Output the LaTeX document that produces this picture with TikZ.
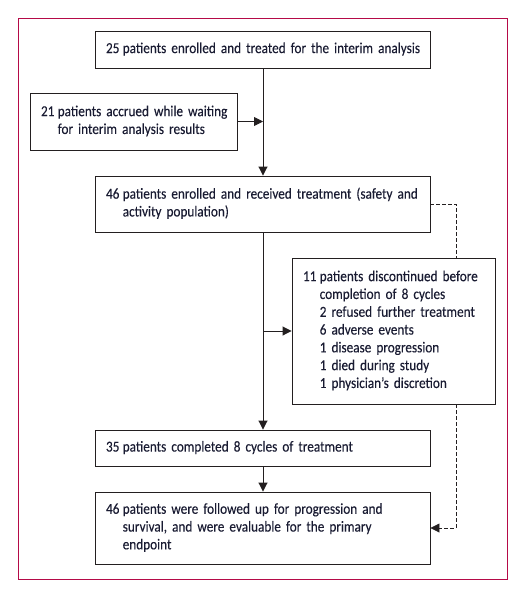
\documentclass[tikz,border=0pt]{standalone}
\usepackage{fontspec}
\setmainfont[FakeStretch=0.87,WordSpace=0.75,FakeBold=0.15]{Carlito}
\usetikzlibrary{arrows.meta}
\definecolor{frame}{RGB}{181,10,72}
\definecolor{ink}{RGB}{35,31,32}
\definecolor{txt}{RGB}{25,27,50}
\newcommand\numtab[2]{\begin{tabular}{@{}l@{\hspace{0.22em}}l@{}}#1 & #2\end{tabular}}
\begin{document}
\begin{tikzpicture}[x=1pt,y=-1pt,
  box/.style={draw=ink, line width=0.9pt, fill=white, inner xsep=11pt, inner ysep=0pt,
    align=left, text=txt, font=\fontsize{15.2}{17.8}\selectfont},
  flow/.style={draw=ink, line width=0.9pt, -{Triangle[length=9pt,width=9pt]}},
  dsh/.style={draw=ink, line width=0.8pt, dash pattern=on 3.5pt off 2.5pt},
  dsharrow/.style={dsh, -{Triangle[length=9pt,width=9pt]}}]
\useasboundingbox (0,0) rectangle (523,590);
\draw[frame, line width=1pt] (18,18) rectangle (507,579);

\node[box, minimum width=335pt, minimum height=37pt, text width=313pt] (b1) at (262.5,49.5)
  {\numtab{25}{patients enrolled and treated for the interim analysis}};
\node[box, minimum width=207pt, minimum height=57pt, text width=185pt] (b2) at (133.5,121.5)
  {\numtab{21}{patients accrued while waiting\\ & for interim analysis results}};
\node[box, minimum width=335pt, minimum height=56pt, text width=313pt] (b3) at (262.5,204)
  {\numtab{46}{patients enrolled and received treatment (safety and\\ & activity population)}};
\node[box, minimum width=203pt, minimum height=146pt, text width=181pt] (b4) at (393.5,331)
  {\numtab{11}{patients discontinued before\\ & completion of 8 cycles\\ & 2 refused further treatment\\ & 6 adverse events\\ & 1 disease progression\\ & 1 died during study\\ & 1 physician’s discretion}};
\node[box, minimum width=335pt, minimum height=36pt, text width=313pt] (b5) at (262.5,448)
  {\numtab{35}{patients completed 8 cycles of treatment}};
\node[box, minimum width=335pt, minimum height=72pt, text width=313pt] (b6) at (262.5,528)
  {\numtab{46}{patients were followed up for progression and\\ & survival, and were evaluable for the primary\\ & endpoint}};

\coordinate (m) at (263,0);
\coordinate (dx) at (456,0);
\draw[flow] (m |- b1.south) -- (m |- b3.north);
\draw[flow] (b2.east) -- (m |- b2.east);
\draw[flow] (m |- b3.south) -- (m |- b5.north);
\draw[flow] (m |- b4.west) -- (b4.west);
\draw[flow] (m |- b5.south) -- (m |- b6.north);
\draw[dsh] (b3.east) -| (dx |- b4.north);
\draw[dsharrow] (dx |- b4.south) |- (b6.east);
\end{tikzpicture}
\end{document}
